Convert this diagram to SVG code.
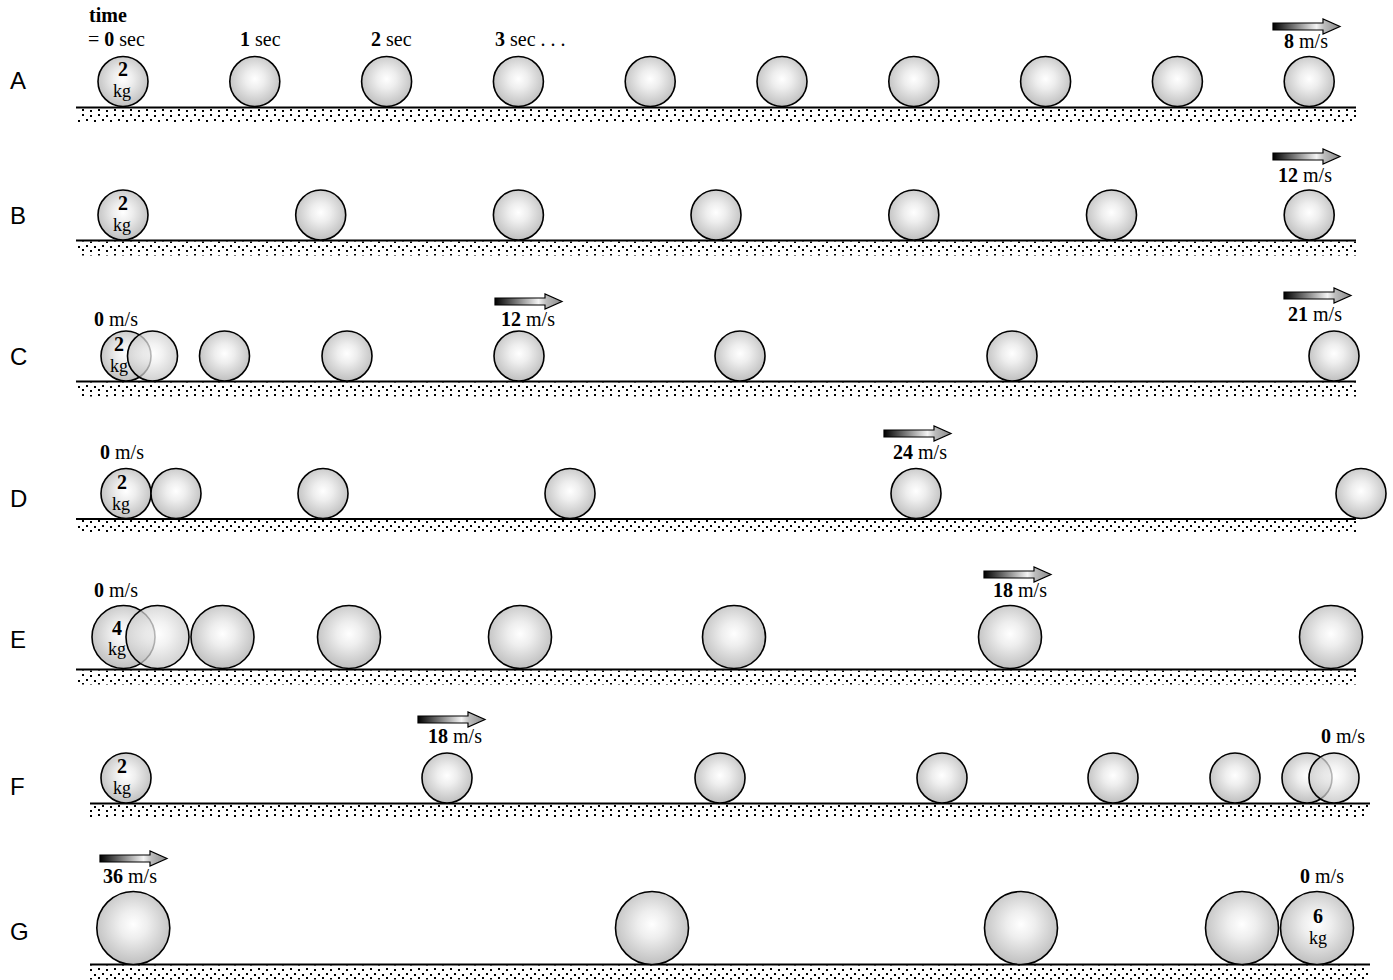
<svg xmlns="http://www.w3.org/2000/svg" xmlns:xlink="http://www.w3.org/1999/xlink" width="1393" height="980" viewBox="0 0 1393 980">
<defs>
<radialGradient id="bg" cx="0.5" cy="0.45" r="0.55">
<stop offset="0" stop-color="#ffffff"/>
<stop offset="0.35" stop-color="#eeeeee"/>
<stop offset="1" stop-color="#bfbfbf"/>
</radialGradient>
<linearGradient id="ag" x1="0" y1="0" x2="1" y2="0">
<stop offset="0" stop-color="#000"/>
<stop offset="0.65" stop-color="#f4f4f4"/>
<stop offset="0.76" stop-color="#bdbdbd"/>
<stop offset="1" stop-color="#8a8a8a"/>
</linearGradient>
<path id="arrow" d="M0,0 H50 V-4 L67,3.5 L50,11 V7 H0 Z" fill="url(#ag)" stroke="#000" stroke-width="1.2" stroke-linejoin="miter"/>
<pattern id="dots" x="0" y="0" width="16" height="14" patternUnits="userSpaceOnUse">
<rect x="2" y="2" width="2" height="2" fill="#000"/>
<rect x="10" y="3" width="2" height="2" fill="#000"/>
<rect x="6" y="7" width="2" height="2" fill="#000"/>
<rect x="14" y="8" width="2" height="2" fill="#000"/>
<rect x="2" y="11" width="2" height="2" fill="#000"/>
<rect x="10" y="12" width="2" height="2" fill="#000"/>
</pattern>
</defs>
<style>
.ball{fill:url(#bg);stroke:#000;stroke-width:1.6}
.ghost{fill:url(#bg);fill-opacity:0.72;stroke:#000;stroke-width:1.6}
.t{font-family:"Liberation Serif","Times New Roman",serif;font-size:20px;fill:#000}
.b{font-weight:bold}
.in{font-family:"Liberation Serif","Times New Roman",serif;font-size:18px;fill:#000;text-anchor:middle}
.d{font-size:20px;font-weight:bold}
.lab{font-family:"Liberation Sans",Arial,sans-serif;font-size:24px;fill:#000}
.gl{stroke:#000;stroke-width:2}
.mid{text-anchor:middle}
</style>

<g id="row-labels">
<text class="lab" x="10" y="89">A</text>
<text class="lab" x="10" y="224">B</text>
<text class="lab" x="10" y="365">C</text>
<text class="lab" x="10" y="507">D</text>
<text class="lab" x="10" y="648">E</text>
<text class="lab" x="10" y="795">F</text>
<text class="lab" x="10" y="940">G</text>
</g>

<g id="grounds">
<line class="gl" x1="76" y1="107.5" x2="1356" y2="107.5"/><rect x="76" y="108.5" width="1280" height="14" fill="url(#dots)"/>
<line class="gl" x1="76" y1="240.5" x2="1356" y2="240.5"/><rect x="76" y="241.5" width="1280" height="14" fill="url(#dots)"/>
<line class="gl" x1="76" y1="381.5" x2="1356" y2="381.5"/><rect x="76" y="382.5" width="1280" height="14" fill="url(#dots)"/>
<line class="gl" x1="76" y1="519" x2="1356" y2="519"/><rect x="76" y="520" width="1280" height="14" fill="url(#dots)"/>
<line class="gl" x1="76" y1="669.5" x2="1356" y2="669.5"/><rect x="76" y="670.5" width="1280" height="14" fill="url(#dots)"/>
<line class="gl" x1="90" y1="803.5" x2="1370" y2="803.5"/><rect x="90" y="804.5" width="1280" height="14" fill="url(#dots)"/>
<line class="gl" x1="90" y1="964.5" x2="1370" y2="964.5"/><rect x="90" y="965.5" width="1280" height="14" fill="url(#dots)"/>
</g>

<g id="row-A">
<text class="t b" x="89" y="22">time</text>
<text class="t" x="88" y="46">= <tspan class="b">0</tspan> sec</text>
<text class="t" x="240" y="46"><tspan class="b">1</tspan> sec</text>
<text class="t" x="371" y="46"><tspan class="b">2</tspan> sec</text>
<text class="t" x="495" y="46"><tspan class="b">3</tspan> sec . . .</text>
<use xlink:href="#arrow" x="1273" y="23"/>
<text class="t mid" x="1306" y="48"><tspan class="b">8</tspan> m/s</text>
<circle class="ball" cx="123" cy="81.5" r="25"/>
<text class="in d" x="123" y="76">2</text><text class="in" x="122" y="97">kg</text>
<circle class="ball" cx="254.8" cy="81.5" r="25"/>
<circle class="ball" cx="386.6" cy="81.5" r="25"/>
<circle class="ball" cx="518.4" cy="81.5" r="25"/>
<circle class="ball" cx="650.2" cy="81.5" r="25"/>
<circle class="ball" cx="782" cy="81.5" r="25"/>
<circle class="ball" cx="913.8" cy="81.5" r="25"/>
<circle class="ball" cx="1045.6" cy="81.5" r="25"/>
<circle class="ball" cx="1177.4" cy="81.5" r="25"/>
<circle class="ball" cx="1309.2" cy="81.5" r="25"/>
</g>

<g id="row-B">
<use xlink:href="#arrow" x="1273" y="153"/>
<text class="t mid" x="1305" y="182"><tspan class="b">12</tspan> m/s</text>
<circle class="ball" cx="123" cy="215" r="25"/>
<text class="in d" x="123" y="210">2</text><text class="in" x="122" y="231">kg</text>
<circle class="ball" cx="320.7" cy="215" r="25"/>
<circle class="ball" cx="518.4" cy="215" r="25"/>
<circle class="ball" cx="716" cy="215" r="25"/>
<circle class="ball" cx="913.8" cy="215" r="25"/>
<circle class="ball" cx="1111.5" cy="215" r="25"/>
<circle class="ball" cx="1309.2" cy="215" r="25"/>
</g>

<g id="row-C">
<text class="t mid" x="116" y="326"><tspan class="b">0</tspan> m/s</text>
<use xlink:href="#arrow" x="495" y="298"/>
<text class="t mid" x="528" y="326"><tspan class="b">12</tspan> m/s</text>
<use xlink:href="#arrow" x="1284" y="292"/>
<text class="t mid" x="1315" y="321"><tspan class="b">21</tspan> m/s</text>
<circle class="ball" cx="126" cy="356" r="25"/>
<text class="in d" x="119" y="351">2</text><text class="in" x="119" y="372">kg</text>
<circle class="ghost" cx="152.5" cy="356" r="25"/>
<circle class="ball" cx="224.5" cy="356" r="25"/>
<circle class="ball" cx="347" cy="356" r="25"/>
<circle class="ball" cx="519" cy="356" r="25"/>
<circle class="ball" cx="740" cy="356" r="25"/>
<circle class="ball" cx="1012" cy="356" r="25"/>
<circle class="ball" cx="1334" cy="356" r="25"/>
</g>

<g id="row-D">
<text class="t mid" x="122" y="459"><tspan class="b">0</tspan> m/s</text>
<use xlink:href="#arrow" x="884" y="430"/>
<text class="t mid" x="920" y="459"><tspan class="b">24</tspan> m/s</text>
<circle class="ball" cx="126" cy="493.5" r="25"/>
<text class="in d" x="122" y="489">2</text><text class="in" x="121" y="510">kg</text>
<circle class="ball" cx="176" cy="493.5" r="25"/>
<circle class="ball" cx="323" cy="493.5" r="25"/>
<circle class="ball" cx="570" cy="493.5" r="25"/>
<circle class="ball" cx="916" cy="493.5" r="25"/>
<circle class="ball" cx="1361" cy="493.5" r="25"/>
</g>

<g id="row-E">
<text class="t mid" x="116" y="597"><tspan class="b">0</tspan> m/s</text>
<use xlink:href="#arrow" x="984" y="571"/>
<text class="t mid" x="1020" y="597"><tspan class="b">18</tspan> m/s</text>
<circle class="ball" cx="123.5" cy="637" r="31.5"/>
<text class="in d" x="117" y="635">4</text><text class="in" x="117" y="655">kg</text>
<circle class="ghost" cx="157.5" cy="637" r="31.5"/>
<circle class="ball" cx="222.5" cy="637" r="31.5"/>
<circle class="ball" cx="349" cy="637" r="31.5"/>
<circle class="ball" cx="520" cy="637" r="31.5"/>
<circle class="ball" cx="734" cy="637" r="31.5"/>
<circle class="ball" cx="1010" cy="637" r="31.5"/>
<circle class="ball" cx="1331" cy="637" r="31.5"/>
</g>

<g id="row-F">
<use xlink:href="#arrow" x="418" y="716"/>
<text class="t mid" x="455" y="743"><tspan class="b">18</tspan> m/s</text>
<text class="t mid" x="1343" y="743"><tspan class="b">0</tspan> m/s</text>
<circle class="ball" cx="126" cy="778" r="25"/>
<text class="in d" x="122" y="773">2</text><text class="in" x="122" y="794">kg</text>
<circle class="ball" cx="447" cy="778" r="25"/>
<circle class="ball" cx="720" cy="778" r="25"/>
<circle class="ball" cx="942" cy="778" r="25"/>
<circle class="ball" cx="1113" cy="778" r="25"/>
<circle class="ball" cx="1235" cy="778" r="25"/>
<circle class="ball" cx="1307" cy="778" r="25"/>
<circle class="ghost" cx="1334" cy="778" r="25"/>
</g>

<g id="row-G">
<use xlink:href="#arrow" x="100" y="855"/>
<text class="t mid" x="130" y="883"><tspan class="b">36</tspan> m/s</text>
<text class="t mid" x="1322" y="883"><tspan class="b">0</tspan> m/s</text>
<circle class="ball" cx="133.3" cy="928" r="36.5"/>
<circle class="ball" cx="652" cy="928" r="36.5"/>
<circle class="ball" cx="1021" cy="928" r="36.5"/>
<circle class="ball" cx="1242" cy="928" r="36.5"/>
<circle class="ball" cx="1317" cy="928" r="36.5"/>
<text class="in d" x="1318" y="923">6</text><text class="in" x="1318" y="944">kg</text>
</g>
</svg>
